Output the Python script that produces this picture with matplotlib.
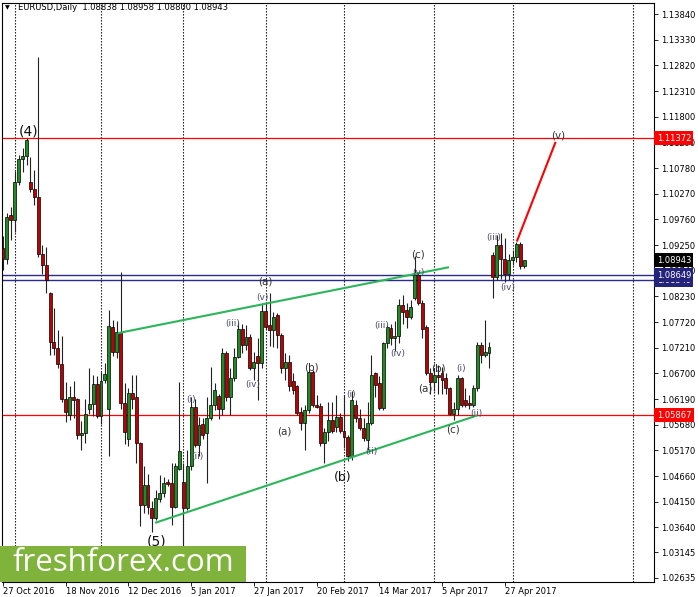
import numpy as np
import matplotlib.pyplot as plt
from matplotlib.patches import Rectangle

# EURUSD daily candles, 27 Oct 2016 .. 4 May 2017 (bar index = trading day)
opens = [
    1.0920, 1.0898, 1.0984, 1.0975, 1.1051, 1.1095, 1.1101, 1.1051, 1.1036, 1.1021,
    1.0908, 1.0886, 1.0830, 1.0733, 1.0720, 1.0689, 1.0620, 1.0587, 1.0624, 1.0620,
    1.0547, 1.0552, 1.0600, 1.0610, 1.0648, 1.0585, 1.0657, 1.0600, 1.0763, 1.0713,
    1.0752, 1.0612, 1.0540, 1.0632, 1.0624, 1.0532, 1.0409, 1.0448, 1.0402, 1.0382,
    1.0421, 1.0432, 1.0455, 1.0452, 1.0405, 1.0481, 1.0455, 1.0402, 1.0485, 1.0604,
    1.0528, 1.0570, 1.0551, 1.0581, 1.0607, 1.0625, 1.0600, 1.0710, 1.0624, 1.0660,
    1.0703, 1.0759, 1.0726, 1.0743, 1.0680, 1.0705, 1.0690, 1.0793, 1.0766, 1.0757,
    1.0786, 1.0746, 1.0680, 1.0693, 1.0655, 1.0644, 1.0594, 1.0571, 1.0597, 1.0673,
    1.0607, 1.0605, 1.0531, 1.0554, 1.0577, 1.0564, 1.0584, 1.0555, 1.0544, 1.0505,
    1.0607, 1.0581, 1.0561, 1.0538, 1.0571, 1.0670, 1.0650, 1.0601, 1.0730, 1.0760,
    1.0740, 1.0745, 1.0805, 1.0796, 1.0782, 1.0820, 1.0866, 1.0809, 1.0762, 1.0670,
    1.0653, 1.0667, 1.0670, 1.0660, 1.0640, 1.0590, 1.0600, 1.0660, 1.0617, 1.0612,
    1.0607, 1.0640, 1.0726, 1.0706, 1.0710, 1.0905, 1.0862, 1.0925, 1.0898, 1.0868,
    1.0895, 1.0902, 1.0928, 1.08838]
highs = [
    1.0942, 1.0988, 1.1000, 1.1072, 1.1104, 1.1118, 1.11372, 1.1100, 1.1075, 1.1299,
    1.0925, 1.0922, 1.0832, 1.0800, 1.0756, 1.0745, 1.0653, 1.0644, 1.0655, 1.0622,
    1.0575, 1.0620, 1.0680, 1.0667, 1.0664, 1.0673, 1.0690, 1.0796, 1.0777, 1.0775,
    1.0872, 1.0650, 1.0640, 1.0667, 1.0667, 1.0534, 1.0485, 1.0470, 1.0417, 1.0438,
    1.0468, 1.0465, 1.0460, 1.0491, 1.0491, 1.0653, 1.0491, 1.0518, 1.0624, 1.0620,
    1.0584, 1.0581, 1.0624, 1.0683, 1.0650, 1.0630, 1.0720, 1.0714, 1.0680, 1.0720,
    1.0772, 1.0769, 1.0766, 1.0749, 1.0713, 1.0740, 1.0810, 1.0812, 1.0829, 1.0792,
    1.0789, 1.0750, 1.0710, 1.0707, 1.0670, 1.0647, 1.0604, 1.0607, 1.0677, 1.0677,
    1.0627, 1.0611, 1.0561, 1.0614, 1.0614, 1.0627, 1.0591, 1.0627, 1.0548, 1.0634,
    1.0617, 1.0600, 1.0581, 1.0614, 1.0707, 1.0673, 1.0664, 1.0733, 1.0766, 1.0768,
    1.0775, 1.0817, 1.0825, 1.0810, 1.0815, 1.0904, 1.0872, 1.0816, 1.0766, 1.0680,
    1.0680, 1.0686, 1.0683, 1.0670, 1.0643, 1.0613, 1.0667, 1.0663, 1.0640, 1.0628,
    1.0647, 1.0733, 1.0733, 1.0776, 1.0733, 1.0912, 1.0944, 1.0948, 1.0938, 1.0908,
    1.0915, 1.0931, 1.0931, 1.08958]
lows = [
    1.0875, 1.0888, 1.0935, 1.0950, 1.1045, 1.1070, 1.1085, 1.1030, 1.1004, 1.0901,
    1.0868, 1.0829, 1.0706, 1.0706, 1.0680, 1.0614, 1.0574, 1.0577, 1.0582, 1.0540,
    1.0518, 1.0532, 1.0590, 1.0585, 1.0582, 1.0570, 1.0650, 1.0505, 1.0704, 1.0700,
    1.0600, 1.0530, 1.0525, 1.0600, 1.0491, 1.0366, 1.0392, 1.0390, 1.0355, 1.0379,
    1.0415, 1.0425, 1.0447, 1.0369, 1.0402, 1.0478, 1.0329, 1.0399, 1.0478, 1.0524,
    1.0505, 1.0540, 1.0452, 1.0577, 1.0597, 1.0580, 1.0587, 1.0615, 1.0587, 1.0655,
    1.0700, 1.0710, 1.0716, 1.0677, 1.0657, 1.0617, 1.0680, 1.0758, 1.0725, 1.0723,
    1.0720, 1.0670, 1.0657, 1.0634, 1.0630, 1.0588, 1.0558, 1.0518, 1.0591, 1.0604,
    1.0601, 1.0525, 1.0491, 1.0535, 1.0552, 1.0554, 1.0551, 1.0521, 1.0495, 1.0498,
    1.0574, 1.0558, 1.0535, 1.0518, 1.0568, 1.0624, 1.0597, 1.0597, 1.0720, 1.0727,
    1.0715, 1.0730, 1.0768, 1.0760, 1.0778, 1.0815, 1.0805, 1.0740, 1.0666, 1.0630,
    1.0634, 1.0630, 1.0630, 1.0630, 1.0587, 1.0577, 1.0587, 1.0604, 1.0604, 1.0600,
    1.0604, 1.0634, 1.0690, 1.0703, 1.0680, 1.0819, 1.0855, 1.0858, 1.0852, 1.0855,
    1.0885, 1.0892, 1.0878, 1.08800]
closes = [
    1.0898, 1.0981, 1.0975, 1.1051, 1.1095, 1.1101, 1.1134, 1.1036, 1.1021, 1.0908,
    1.0886, 1.0855, 1.0733, 1.0720, 1.0689, 1.0620, 1.0594, 1.0624, 1.0618, 1.0547,
    1.0552, 1.0590, 1.0610, 1.0648, 1.0585, 1.0654, 1.0668, 1.0765, 1.0713, 1.0752,
    1.0612, 1.0553, 1.0631, 1.0620, 1.0531, 1.0409, 1.0448, 1.0405, 1.0382, 1.0422,
    1.0433, 1.0452, 1.0451, 1.0405, 1.0485, 1.0515, 1.0402, 1.0485, 1.0604, 1.0528,
    1.0567, 1.0548, 1.0581, 1.0607, 1.0637, 1.0600, 1.0710, 1.0624, 1.0660, 1.0703,
    1.0759, 1.0726, 1.0743, 1.0680, 1.0693, 1.0690, 1.0793, 1.0763, 1.0757, 1.0782,
    1.0746, 1.0680, 1.0693, 1.0644, 1.0636, 1.0591, 1.0571, 1.0597, 1.0673, 1.0607,
    1.0604, 1.0531, 1.0554, 1.0577, 1.0555, 1.0584, 1.0555, 1.0544, 1.0505, 1.0617,
    1.0581, 1.0561, 1.0541, 1.0571, 1.0667, 1.0647, 1.0601, 1.0730, 1.0762, 1.0740,
    1.0745, 1.0805, 1.0792, 1.0782, 1.0802, 1.0866, 1.0809, 1.0759, 1.0670, 1.0653,
    1.0667, 1.0662, 1.0657, 1.0640, 1.0590, 1.0600, 1.0660, 1.0607, 1.0607, 1.0608,
    1.0640, 1.0726, 1.0706, 1.0713, 1.0723, 1.0862, 1.0925, 1.0898, 1.0868, 1.0895,
    1.0902, 1.0928, 1.0884, 1.08943]

date_ticks = [0, 16, 32, 48, 64, 80, 96, 112, 128]
date_labels = ['27 Oct 2016', '18 Nov 2016', '12 Dec 2016', '5 Jan 2017', '27 Jan 2017',
               '20 Feb 2017', '14 Mar 2017', '5 Apr 2017', '27 Apr 2017']
month_grid = [3, 25, 46, 67, 87, 110, 130, 160.7]

price_ticks = [1.13840, 1.13330, 1.12820, 1.12310, 1.11800, 1.11290, 1.10780, 1.10270,
               1.09760, 1.09250, 1.08740, 1.08230, 1.07720, 1.07210, 1.06700, 1.06190,
               1.05680, 1.05170, 1.04660, 1.04150, 1.03640, 1.03145, 1.02635]

red_levels = [1.11372, 1.05867]
blue_levels = [1.08549, 1.08649]
last_price = 1.08943

# trend lines (bar, price) pairs
upper_channel = [(29.3, 1.0750), (113.8, 1.0881)]
lower_channel = [(38.8, 1.0373), (121.2, 1.0587)]
target_line = [(131.1, 1.0932), (141.0, 1.1130)]

# wave marks: text, bar, price, size
big_waves = [('(4)', 6.6, 1.1150, 10), ('(5)', 39.2, 1.0336, 10), ('(b)', 86.7, 1.0464, 9)]
mid_waves = [('(a)', 66.8, 1.0852), ('(a)', 71.7, 1.0555), ('(b)', 78.8, 1.0681),
             ('(c)', 105.9, 1.0907), ('(a)', 107.7, 1.0639), ('(b)', 111.0, 1.0679),
             ('(c)', 114.8, 1.0559), ('(v)', 141.6, 1.1142)]
small_waves = [('(v)', 66.3, 1.0820), ('(iii)', 58.7, 1.0770), ('(iv)', 63.8, 1.0647),
               ('(i)', 48.0, 1.0619), ('(ii)', 49.7, 1.0504), ('(i)', 88.8, 1.0629),
               ('(ii)', 93.9, 1.0514), ('(iii)', 96.7, 1.0766), ('(iv)', 100.8, 1.0710),
               ('(v)', 105.9, 1.0871), ('(i)', 116.8, 1.0679), ('(ii)', 120.7, 1.0591),
               ('(iii)', 125.2, 1.0939), ('(iv)', 128.8, 1.0840)]

o = np.array(opens)
h = np.array(highs)
l = np.array(lows)
c = np.array(closes)
x = np.arange(len(c))
up = c >= o

fig = plt.figure(figsize=(6.98, 5.97), dpi=100)
ax = fig.add_axes([2/698, 1-582/597, 652/698, 579/597])
ax.set_xlim(-0.26, 166.1)
ax.set_ylim(1.02555, 1.14059)

# monthly dotted grid
for g in month_grid:
    ax.axvline(g, color='black', lw=0.8, ls=(0, (1.2, 1.5)), zorder=1)

# candles
ax.vlines(x, l, h, color='#222222', lw=0.8, zorder=3)
bot = np.minimum(o, c)
hgt = np.maximum(np.abs(c - o), 0.00012)
ax.bar(x[up], hgt[up], bottom=bot[up], width=0.75, color='#1f8c1f',
       edgecolor='black', lw=0.5, zorder=4)
ax.bar(x[~up], hgt[~up], bottom=bot[~up], width=0.75, color='#c00000',
       edgecolor='black', lw=0.5, zorder=4)

# levels
for lv in red_levels:
    ax.axhline(lv, color='red', lw=0.9, zorder=2)
for lv in blue_levels:
    ax.axhline(lv, color='#2b2b8c', lw=1.0, zorder=2)

for seg, col in [(upper_channel, '#2cb55a'), (lower_channel, '#2cb55a'), (target_line, 'red')]:
    xs, ys = zip(*seg)
    ax.plot(xs, ys, color=col, lw=1.5, zorder=5, solid_capstyle='butt')

# wave labels
for t, bx, py, fs in big_waves:
    ax.text(bx, py, t, fontsize=fs, ha='center', va='center', color='#111111', zorder=6)
for t, bx, py in mid_waves:
    ax.text(bx, py, t, fontsize=7.5, ha='center', va='center', color='#333333', zorder=6)
for t, bx, py in small_waves:
    ax.text(bx, py, t, fontsize=6.5, ha='center', va='center', color='#4a4a66', zorder=6)

# axes look
for s in ax.spines.values():
    s.set_color('black')
    s.set_linewidth(0.8)
ax.yaxis.tick_right()
ax.set_yticks(price_ticks)
ax.set_yticklabels(['%.5f' % p for p in price_ticks])
ax.set_xticks(date_ticks)
ax.set_xticklabels(date_labels, ha='left')
ax.tick_params(axis='y', length=3, width=0.6, pad=2, labelsize=6)
ax.tick_params(axis='x', length=3, width=0.6, pad=0.5, labelsize=6)

# price boxes on the right scale
tr = ax.get_yaxis_transform()
boxes = [(red_levels[0], 'red'), (last_price, 'black'), (blue_levels[0], '#23237a'),
         (blue_levels[1], '#23237a'), (red_levels[1], 'red')]
for p, col in boxes:
    ax.text(1.004, p, '%.5f' % p, transform=tr, fontsize=6, color='white', ha='left',
            va='center', clip_on=False, zorder=10,
            bbox=dict(boxstyle='square,pad=0.3', fc=col, ec='none'))

# header
fig.text(5/698, 1-8/597, '▼', fontsize=4.5, va='center')
fig.text(18/698, 1-8/597, 'EURUSD,Daily  1.08838 1.08958 1.08800 1.08943',
         fontsize=6, va='center')

# logo
fig.add_artist(Rectangle((0, 1-582/597), 246/698, 36/597, transform=fig.transFigure,
                         facecolor='#80b33b', edgecolor='none', zorder=20))
fig.text(123/698, 1-563/597, 'freshforex.com', color='white', fontsize=22.5,
         family='Open Sans', ha='center', va='center', zorder=21)

fig.savefig('out.png', dpi=100)
